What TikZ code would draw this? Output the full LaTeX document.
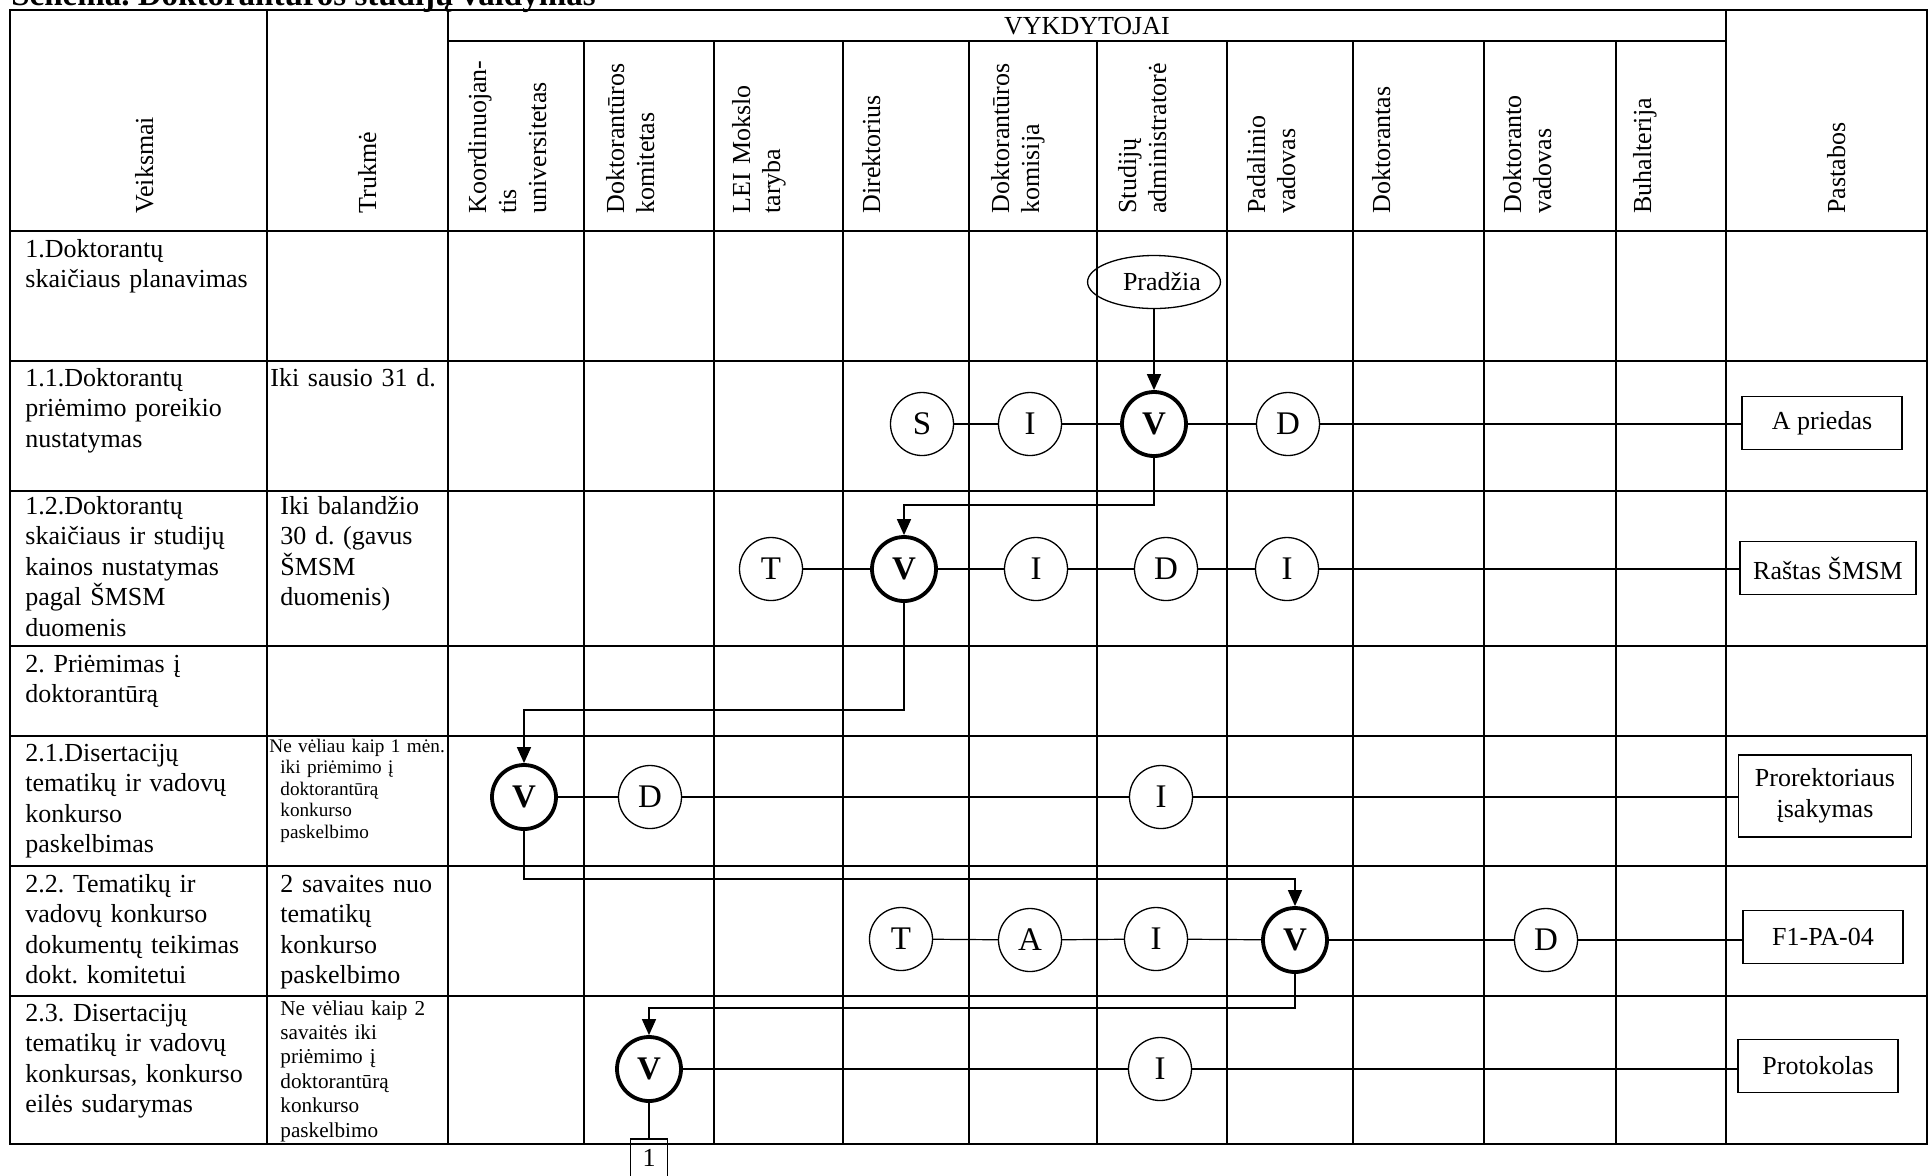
\documentclass[tikz,border=0pt]{standalone}
\usepackage{fontspec}
\setmainfont{Liberation Serif}
\usetikzlibrary{arrows.meta,shapes.geometric}
\newcommand{\fsN}{\fontsize{13}{15.25}\selectfont}
\newcommand{\fsH}{\fontsize{13}{15}\selectfont}
\newcommand{\fsC}{\fontsize{16.5}{18}\selectfont}
\newcommand{\fsS}{\fontsize{9.6}{10.75}\selectfont}
\newcommand{\fsT}{\fontsize{10.6}{12.2}\selectfont}
\begin{document}
\frenchspacing
\begin{tikzpicture}[x=0.5pt,y=-0.5pt,
  tbl/.style={line width=0.9pt},
  cnode/.style={circle,draw,line width=0.65pt,minimum size=31.5pt,inner sep=0pt,font=\fsC,fill=white},
  vnode/.style={circle,draw,line width=1.9pt,minimum size=32pt,inner sep=0pt,font=\fsC\bfseries,fill=white},
  pbox/.style={draw,line width=0.65pt,minimum height=26.5pt,inner sep=0pt,font=\fsN,align=center},
  conn/.style={line width=0.6pt},
  flow/.style={line width=0.75pt,-{Triangle[length=8pt,width=7pt]}},
  hdr/.style={rotate=90,anchor=base west,inner sep=0pt,text width=200pt,align=left,font=\fsH},
  body/.style={anchor=base west,inner sep=0pt,text width=130pt,align=left,font=\fsN}
]
\useasboundingbox (0,0) rectangle (1929,1175);
% title (cut at top)
\node[anchor=base west,inner sep=0pt,font=\fontsize{16.5}{18}\selectfont\bfseries] (title) at (11,5) {Schema. Doktorantūros studijų valdymas};
% table grid
\draw[tbl] (10,10) rectangle (1927,1144);
\foreach \yy in {231,361,491,646,736,866,996} \draw[tbl] (10,\yy) -- (1927,\yy);
\draw[tbl] (448,41) -- (1726,41);
\foreach \xx in {267,448,1726} \draw[tbl] (\xx,10) -- (\xx,1144);
\foreach \xx in {584,714,843,969,1097,1227,1353,1484,1616} \draw[tbl] (\xx,41) -- (\xx,1144);
% header
\node[anchor=base,inner sep=0pt,font=\fsH] (vyk) at (1087,34) {VYKDYTOJAI};
\node[hdr] (hV) at (153,214) {Veiksmai};
\node[hdr] (hT) at (376,214) {Trukmė};
\node[hdr] (hP) at (1845,214) {Pastabos};
\node[hdr] (h1) at (486,214) {Koordinuojan-\\tis\\universitetas};
\node[hdr] (h2) at (624,214) {Doktorantūros\\komitetas};
\node[hdr] (h3) at (750,214) {LEI Mokslo\\taryba};
\node[hdr] (h4) at (880,214) {Direktorius};
\node[hdr] (h5) at (1009,214) {Doktorantūros\\komisija};
\node[hdr] (h6) at (1136,214) {Studijų\\administratorė};
\node[hdr] (h7) at (1265,214) {Padalinio\\vadovas};
\node[hdr] (h8) at (1390,214) {Doktorantas};
\node[hdr] (h9) at (1521,214) {Doktoranto\\vadovas};
\node[hdr] (h10) at (1651,214) {Buhalterija};
% Veiksmai column
\node[body] (a1) at (25,257) {1.Doktorantų\\skaičiaus planavimas};
\node[body] (a11) at (25,386) {1.1.Doktorantų\\priėmimo poreikio\\nustatymas};
\node[body] (a12) at (25,514) {1.2.Doktorantų\\skaičiaus ir studijų\\kainos nustatymas\\pagal ŠMSM\\duomenis};
\node[body] (a2) at (25,672) {2. Priėmimas į\\doktorantūrą};
\node[body] (a21) at (25,761) {2.1.Disertacijų\\tematikų ir vadovų\\konkurso\\paskelbimas};
\node[body] (a22) at (25,892) {2.2. Tematikų ir\\vadovų konkurso\\dokumentų teikimas\\dokt. komitetui};
\node[body] (a23) at (25,1021) {2.3. Disertacijų\\tematikų ir vadovų\\konkursas, konkurso\\eilės sudarymas};
% Trukme column
\node[body] (t11) at (270,386) {Iki sausio 31 d.};
\node[body] (t12) at (280,514) {Iki balandžio\\30 d. (gavus\\ŠMSM\\duomenis)};
\node[body,font=\fsS] (t21) at (269,752) {Ne vėliau kaip 1 mėn.\\\hspace*{5.5pt}iki priėmimo į\\\hspace*{5.5pt}doktorantūrą\\\hspace*{5.5pt}konkurso\\\hspace*{5.5pt}paskelbimo};
\node[body] (t22) at (280,892) {2 savaites nuo\\tematikų\\konkurso\\paskelbimo};
\node[body,font=\fsT] (t23) at (280,1015) {Ne vėliau kaip 2\\savaitės iki\\priėmimo į\\doktorantūrą\\konkurso\\paskelbimo};
% start
\node[ellipse,draw,line width=0.65pt,minimum width=57pt,minimum height=26.5pt,inner sep=0pt,font=\fsN] (P) at (1154,282) {\hspace*{8pt}Pradžia};
% row 1.1
\node[cnode] (S11) at (922,424) {S};
\node[cnode] (I11) at (1030,424) {I};
\node[vnode] (V11) at (1154,424) {V};
\node[cnode] (D11) at (1288,424) {D};
\node[pbox,minimum width=80pt] (B11) at (1822,423) {A priedas};
% row 1.2
\node[cnode] (T12) at (771,569) {T};
\node[vnode] (V12) at (904,569) {V};
\node[cnode] (I12) at (1036,569) {I};
\node[cnode] (D12) at (1166,569) {D};
\node[cnode] (J12) at (1287,569) {I};
\node[pbox,minimum width=88pt] (B12) at (1828,568) {Raštas ŠMSM};
% row 2.1
\node[vnode] (V21) at (524,797) {V};
\node[cnode] (D21) at (650,797) {D};
\node[cnode] (I21) at (1161,797) {I};
\node[pbox,minimum width=86.5pt,minimum height=41pt] (B21) at (1825,796) {Prorektoriaus\\įsakymas};
% row 2.2
\node[cnode] (T22) at (901,939) {T};
\node[cnode] (A22) at (1030,940) {A};
\node[cnode] (I22) at (1156,939) {I};
\node[vnode] (V22) at (1295,940) {V};
\node[cnode] (D22) at (1546,940) {D};
\node[pbox,minimum width=80pt] (B22) at (1823,937) {F1-PA-04};
% row 2.3
\node[vnode] (V23) at (649,1069) {V};
\node[cnode] (I23) at (1160,1069) {I};
\node[pbox,minimum width=80pt] (B23) at (1818,1066) {Protokolas};
\node[draw,line width=0.65pt,minimum width=18.5pt,minimum height=19pt,inner sep=0pt,font=\fsN] (B1) at (649,1158) {1};
% connectors
\draw[conn] (S11) -- (I11); \draw[conn] (I11) -- (V11); \draw[conn] (V11) -- (D11); \draw[conn] (D11) -- (D11 -| B11.west);
\draw[conn] (T12) -- (V12); \draw[conn] (V12) -- (I12); \draw[conn] (I12) -- (D12); \draw[conn] (D12) -- (J12); \draw[conn] (J12) -- (J12 -| B12.west);
\draw[conn] (V21) -- (D21); \draw[conn] (D21) -- (I21); \draw[conn] (I21) -- (I21 -| B21.west);
\draw[conn] (T22) -- (A22); \draw[conn] (A22) -- (I22); \draw[conn] (I22) -- (V22); \draw[conn] (V22) -- (D22); \draw[conn] (D22) -- (D22 -| B22.west);
\draw[conn] (V23) -- (I23); \draw[conn] (I23) -- (I23 -| B23.west);
% flow
\coordinate (k1) at (904,505);
\coordinate (k2) at (524,710);
\coordinate (k3) at (1295,879);
\coordinate (k4) at (649,1008);
\draw[flow] (P.south) -- (V11.north);
\draw[flow] (V11.south) |- (k1) -- (V12.north);
\draw[flow] (V12.south) |- (k2) -- (V21.north);
\draw[flow] (V21.south) |- (k3) -- (V22.north);
\draw[flow] (V22.south) |- (k4) -- (V23.north);
\draw[conn] (V23.south) -- (B1.north);
\end{tikzpicture}
\end{document}
